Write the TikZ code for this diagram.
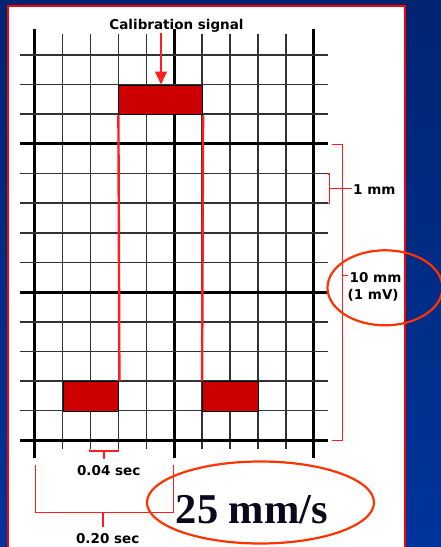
\documentclass[tikz,border=0pt]{standalone}
\usepackage{fontspec}
\setmainfont{Liberation Serif}
\newfontfamily\pixfont{DejaVu Sans}
\usetikzlibrary{arrows.meta}
\definecolor{bgtop}{RGB}{0,36,112}
\definecolor{bgbot}{RGB}{0,52,155}
\definecolor{panelred}{RGB}{255,0,0}
\definecolor{sigred}{RGB}{204,0,0}
\definecolor{linered}{RGB}{255,30,30}
\definecolor{ringred}{RGB}{255,51,0}
\definecolor{bigtext}{RGB}{10,10,30}
\tikzset{
  thickgrid/.style={line width=2.9pt, black},
  thingrid/.style={line width=1.6pt, black!80},
  sigblock/.style={draw=black, line width=1pt, fill=sigred, inner sep=0pt, anchor=north west},
  sigline/.style={linered, line width=2.4pt},
  bracket/.style={linered, line width=1.4pt},
  ring/.style={ringred, line width=2.2pt},
  lbl/.style={font=\pixfont\bfseries\fontsize{13.5}{15}\selectfont, inner sep=0pt, text=black},
}
\begin{document}
\begin{tikzpicture}[x=1pt,y=-1pt]
\useasboundingbox (0,0) rectangle (441,547);
% background
\shade[top color=bgtop, bottom color=bgbot] (0,0) rectangle (441,547);
\fill[white] (8,5.8) rectangle (404.7,560);
\draw[panelred, line width=2.4pt] (8,560) -- (8,5.8) -- (404.7,5.8) -- (404.7,560);
% grid: vertical lines
\foreach \i in {1,2,3,4,6,7,8,9} {
  \pgfmathsetmacro\xx{34.7+27.9*\i}
  \draw[thingrid] (\xx,34) -- (\xx,449);
}
\foreach \i in {0,5,10} {
  \pgfmathsetmacro\xx{34.7+27.9*\i}
  \draw[thickgrid] (\xx,29) -- (\xx,458);
}
% grid: horizontal lines
\foreach \j in {0,1,2,4,5,6,7,9,10,11,12} {
  \pgfmathsetmacro\yy{55+29.64*\j}
  \draw[thingrid] (20,\yy) -- (327.7,\yy);
}
\foreach \j in {3,8,13} {
  \pgfmathsetmacro\yy{55+29.64*\j}
  \draw[thickgrid] (20,\yy) -- (328.3,\yy);
}
% calibration signal
\node[sigblock, minimum width=83.7pt, minimum height=29.64pt] (top) at (118.4,84.64) {};
\node[sigblock, minimum width=55.8pt, minimum height=29.64pt] (bl) at (62.6,380.96) {};
\node[sigblock, minimum width=55.8pt, minimum height=29.64pt] (br) at (202.1,380.96) {};
\draw[sigline] (top.south west) -- (bl.north east);
\draw[sigline] (top.south east) -- (br.north west);
% label and arrow
\node[lbl] (cal) at (176.5,26) {Calibration signal};
\coordinate (arrowstart) at (161,33);
\draw[linered, line width=2.2pt, -{Triangle[width=11.5pt,length=13pt]}] (arrowstart) -- (arrowstart |- top.north);
% right brackets
\draw[bracket] (331.7,144.4) -- (342.7,144.4) -- (342.7,440.3) -- (331.7,440.3);
\draw[bracket] (342.7,275.7) -- (348,275.7);
\draw[bracket] (327.6,173.9) -- (329.3,173.9) -- (329.3,203.5) -- (327.6,203.5);
\draw[bracket] (329.3,188.7) -- (351.5,188.7);
\node[lbl, anchor=west] (onemm) at (353,189.5) {1 mm};
\node[lbl, anchor=west] (tenmm) at (349.5,277.5) {10 mm};
\node[lbl, anchor=west] (onemv) at (347.5,295) {(1 mV)};
% bottom brackets
\draw[bracket] (89.5,448.5) -- (89.5,451) -- (118.4,451) -- (118.4,448.5);
\draw[bracket] (104,451) -- (104,458.5);
\node[lbl] (small) at (108.7,471) {0.04 sec};
\draw[bracket] (35.2,465) -- (35.2,512.7) -- (173.6,512.7) -- (173.6,465);
\draw[bracket] (103,512.7) -- (103,527);
\node[lbl] (large) at (107.7,538.5) {0.20 sec};
% speed
\node[font=\bfseries\fontsize{42.5}{46}\selectfont, text=bigtext, inner sep=0pt, anchor=base] (speed) at (252,523) {25 mm/s};
\draw[ring] (260.5,502.5) ellipse [x radius=113.5pt, y radius=41pt];
\draw[ring] (385,287.8) ellipse [x radius=57.5pt, y radius=37.5pt];
\end{tikzpicture}
\end{document}
